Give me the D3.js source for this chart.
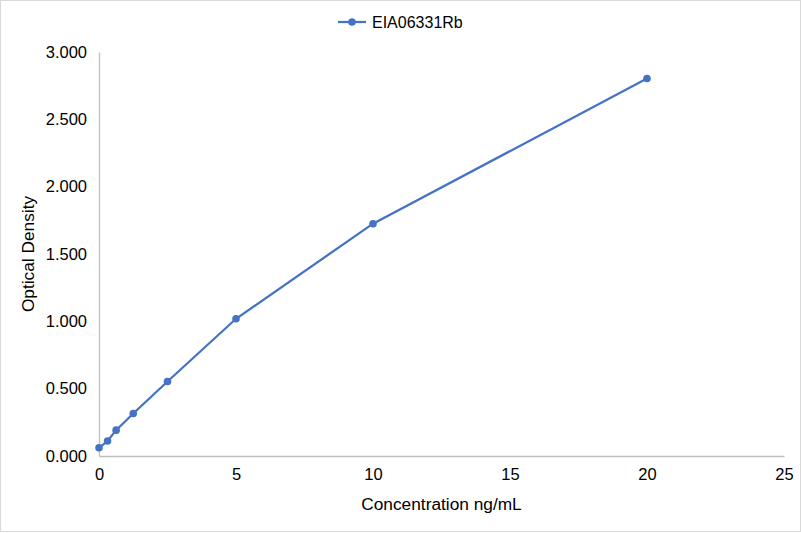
<!DOCTYPE html>
<html>
<head>
<meta charset="utf-8">
<script src="https://cdn.jsdelivr.net/npm/d3@7"></script>
<style>
  body { margin: 0; background: #fff; }
  svg { display: block; font-family: "Liberation Sans", Arial, sans-serif; }
</style>
</head>
<body>
<div id="chart"></div>
<script>
// standard curve values
var seriesName = "EIA06331Rb";
var concentration = [0, 0.3125, 0.625, 1.25, 2.5, 5, 10, 20];
var density = [0.061, 0.111, 0.192, 0.316, 0.553, 1.019, 1.725, 2.803];
var xTicks = [0, 5, 10, 15, 20, 25];
var yTicks = [0, 0.5, 1, 1.5, 2, 2.5, 3];

var svgWidth = 801, svgHeight = 533;
var plotLeft = 99, plotRight = 784, plotTop = 52, plotBottom = 456;
var blue = "#4472c4";

var svg = d3.select("#chart").append("svg")
    .attr("width", svgWidth)
    .attr("height", svgHeight);

// chart frame
svg.append("rect")
    .attr("x", 0.5).attr("y", 0.5)
    .attr("width", svgWidth - 1).attr("height", svgHeight - 2)
    .attr("fill", "#fff")
    .attr("stroke", "#d9d9d9");

var x = d3.scaleLinear().domain([0, 25]).range([plotLeft, plotRight]);
var y = d3.scaleLinear().domain([0, 3]).range([plotBottom, plotTop]);

// x axis
var xAxis = svg.append("g")
    .attr("transform", "translate(0," + plotBottom + ")")
    .call(d3.axisBottom(x).tickValues(xTicks).tickSize(0).tickPadding(12).tickFormat(d3.format("d")));
xAxis.select(".domain").attr("stroke", "#bfbfbf").attr("stroke-width", 1.3);
xAxis.selectAll("text").attr("font-size", 16.5).attr("fill", "#000")
    .attr("font-family", "Liberation Sans, Arial, sans-serif");

// y axis
var yAxis = svg.append("g")
    .attr("transform", "translate(" + plotLeft + ",0)")
    .call(d3.axisLeft(y).tickValues(yTicks).tickSize(0).tickPadding(12).tickFormat(d3.format(".3f")));
yAxis.select(".domain").attr("stroke", "#bfbfbf").attr("stroke-width", 1.3);
yAxis.selectAll("text").attr("font-size", 16.5).attr("fill", "#000")
    .attr("font-family", "Liberation Sans, Arial, sans-serif");

// axis titles
svg.append("text")
    .attr("x", (plotLeft + plotRight) / 2)
    .attr("y", 510)
    .attr("text-anchor", "middle")
    .attr("font-size", 17.3)
    .text("Concentration ng/mL");
svg.append("text")
    .attr("transform", "translate(34," + (plotTop + plotBottom) / 2 + ") rotate(-90)")
    .attr("text-anchor", "middle")
    .attr("font-size", 17.3)
    .text("Optical Density");

// series line and markers
var points = concentration.map(function (c, i) { return [c, density[i]]; });
var line = d3.line()
    .x(function (d) { return x(d[0]); })
    .y(function (d) { return y(d[1]); });

svg.append("path")
    .datum(points)
    .attr("d", line)
    .attr("fill", "none")
    .attr("stroke", blue)
    .attr("stroke-width", 2.25);

svg.selectAll("circle.pt")
    .data(points)
    .enter().append("circle")
    .attr("class", "pt")
    .attr("cx", function (d) { return x(d[0]); })
    .attr("cy", function (d) { return y(d[1]); })
    .attr("r", 3.8)
    .attr("fill", blue);

// legend
var legend = svg.append("g").attr("transform", "translate(338,22)");
legend.append("line")
    .attr("x1", 0).attr("x2", 28)
    .attr("stroke", blue).attr("stroke-width", 2.25);
legend.append("circle")
    .attr("cx", 14).attr("r", 3.8).attr("fill", blue);
legend.append("text")
    .attr("x", 34).attr("y", 6)
    .attr("font-size", 16)
    .text(seriesName);
</script>
</body>
</html>
